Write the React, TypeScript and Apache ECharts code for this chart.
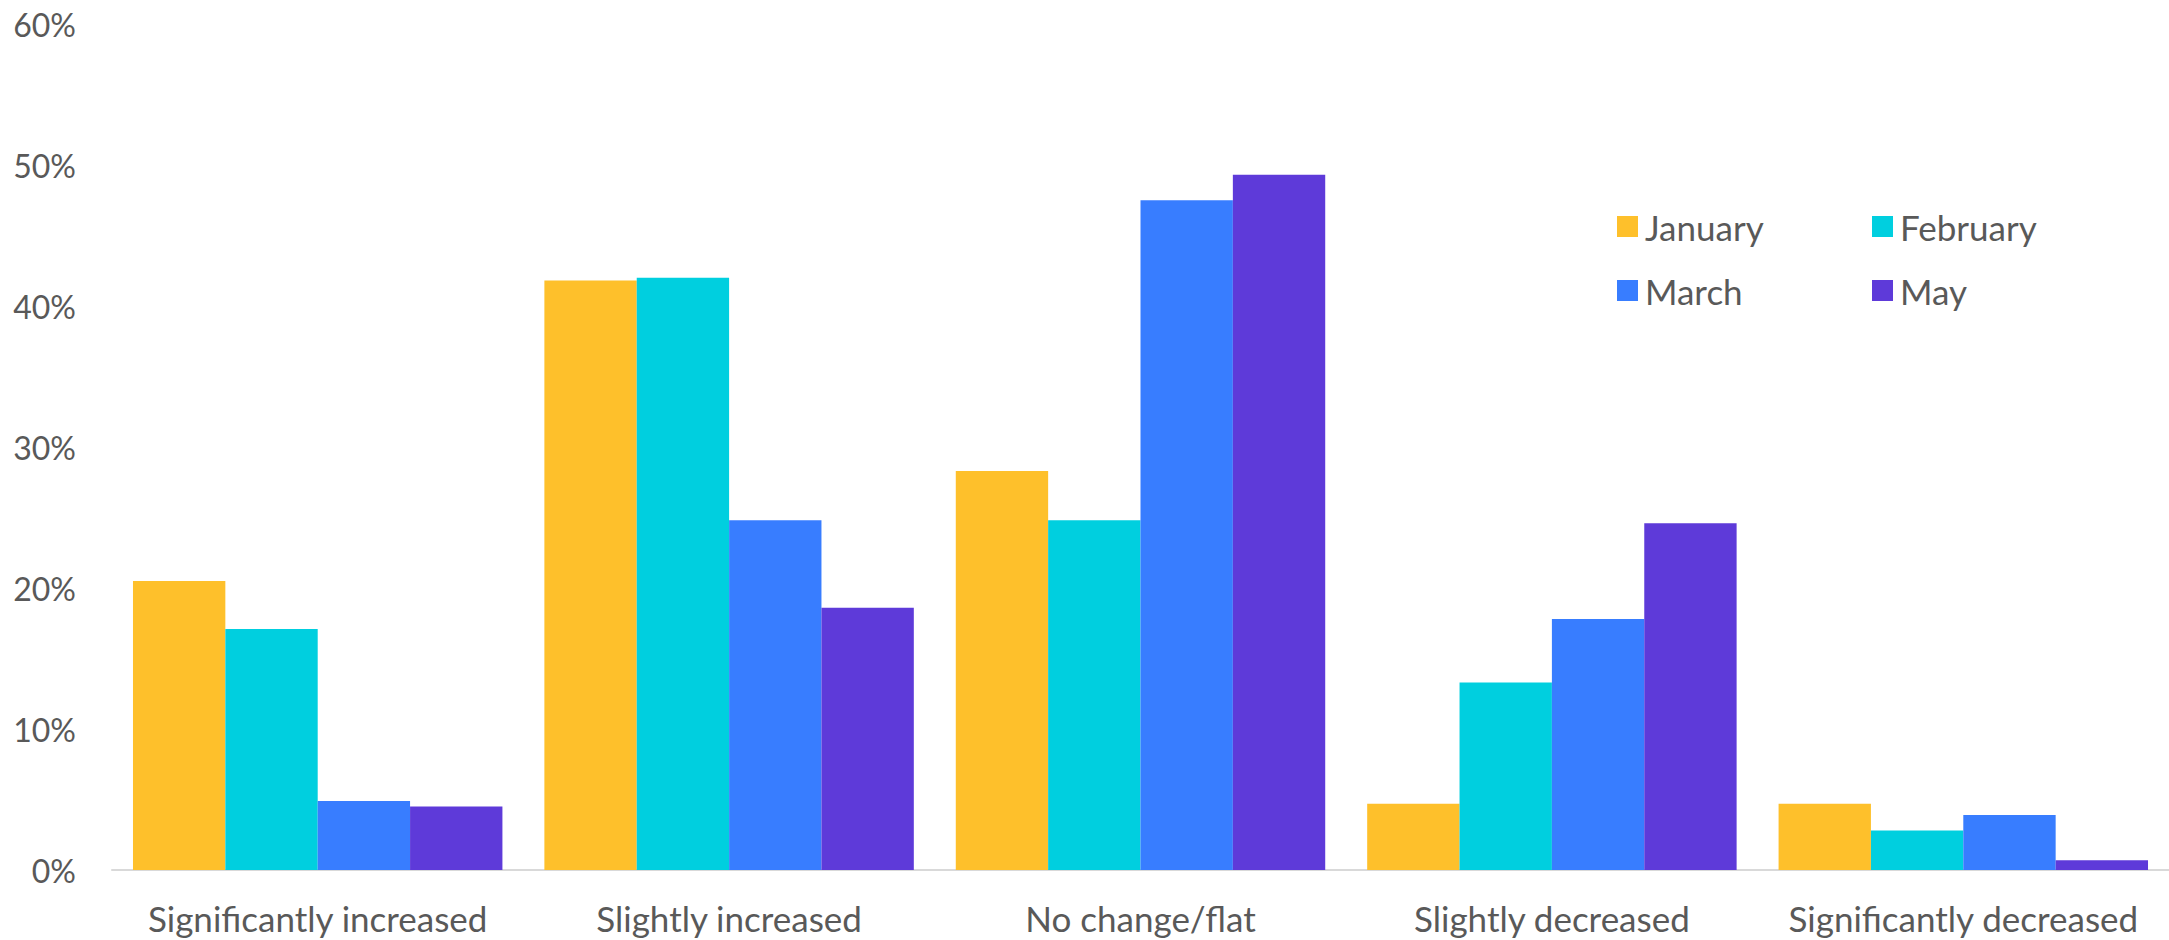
import React, { useEffect, useRef } from "react";
import * as echarts from "echarts";

// Survey responses by category, in percent
const categories = [
  "Significantly increased",
  "Slightly increased",
  "No change/flat",
  "Slightly decreased",
  "Significantly decreased",
];
const seriesNames = ["January", "February", "March", "May"];
const january = [20.5, 41.8, 28.3, 4.7, 4.7];
const february = [17.1, 42.0, 24.8, 13.3, 2.8];
const march = [4.9, 24.8, 47.5, 17.8, 3.9];
const may = [4.5, 18.6, 49.3, 24.6, 0.7];
const colors = ["#FEC02B", "#00CFDF", "#387DFF", "#5E3AD9"];

const FONT = "Lato, 'Open Sans', sans-serif";
const TEXT = "#595959";

export default function App() {
  const ref = useRef<HTMLDivElement>(null);

  useEffect(() => {
    document.body.style.margin = "0";
    if (!ref.current) return;
    const chart = echarts.init(ref.current, undefined, { renderer: "svg" });
    const values = [january, february, march, may];

    // one legend box per entry, laid out as a 2x2 block
    const legendPos = [
      { left: 1617, top: 209 },
      { left: 1872, top: 209 },
      { left: 1617, top: 273 },
      { left: 1872, top: 273 },
    ];

    chart.setOption({
      animation: false,
      backgroundColor: "#ffffff",
      color: colors,
      textStyle: { fontFamily: FONT },
      legend: seriesNames.map((name, i) => ({
        data: [name],
        left: legendPos[i].left,
        top: legendPos[i].top,
        padding: 0,
        itemWidth: 21,
        itemHeight: 21,
        icon: "rect",
        itemGap: 0,
        textStyle: {
          color: TEXT,
          fontSize: 35,
          lineHeight: 35,
          fontFamily: FONT,
          padding: [0, 0, 0, 2],
        },
      })),
      grid: { left: 112, right: -9, top: 24, bottom: 70, containLabel: false },
      xAxis: {
        type: "category",
        data: categories,
        axisTick: { show: false },
        axisLine: { lineStyle: { color: "#D9D9D9", width: 2 } },
        axisLabel: {
          color: TEXT,
          fontSize: 35,
          fontFamily: FONT,
          margin: 30,
          interval: 0,
        },
      },
      yAxis: {
        type: "value",
        min: 0,
        max: 60,
        interval: 10,
        splitLine: { show: false },
        axisLine: { show: false },
        axisTick: { show: false },
        axisLabel: {
          color: TEXT,
          fontSize: 32,
          fontFamily: FONT,
          margin: 36,
          formatter: "{value}%",
        },
      },
      series: seriesNames.map((name, i) => ({
        name,
        type: "bar",
        data: values[i],
        barGap: "0%",
        barCategoryGap: "10.2%",
        itemStyle: { color: colors[i] },
      })),
    });

    return () => chart.dispose();
  }, []);

  return <div ref={ref} style={{ width: 2169, height: 940 }} />;
}
